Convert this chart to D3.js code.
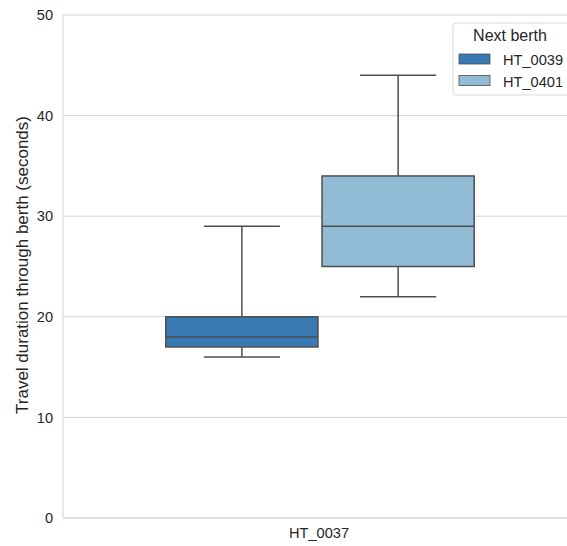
<!DOCTYPE html>
<html><head><meta charset="utf-8">
<script src="https://cdn.jsdelivr.net/npm/d3@7"></script>
<style>body{margin:0;background:#fff}svg{display:block;font-family:"Liberation Sans",Arial,sans-serif}</style>
</head><body>
<script>
const categories = ["HT_0037"];
const hues = ["HT_0039", "HT_0401"];
const colors = ["#3a7ab3", "#92bbd6"];
// [whiskerLow, Q1, median, Q3, whiskerHigh]
const statsHT0039 = [16, 17, 18, 20, 29];
const statsHT0401 = [22, 25, 29, 34, 44];
const yTicks = [0, 10, 20, 30, 40, 50];

const series = [
  {hue: hues[0], cat: categories[0], s: statsHT0039, color: colors[0]},
  {hue: hues[1], cat: categories[0], s: statsHT0401, color: colors[1]}
];

const W = 567, H = 546;
const m = {l: 63, t: 15, b: 28, r: -10};
const svg = d3.select("body").append("svg").attr("width", W).attr("height", H);

const y = d3.scaleLinear().domain([0, 50]).range([H - m.b, m.t]);
const x = d3.scaleBand().domain(categories).range([m.l, W - m.r]);
const bwAll = x.bandwidth();
const xh = d3.scaleBand().domain(hues).range([bwAll * 0.2, bwAll * 0.8]).paddingInner(0.026);

// grid
svg.append("g").selectAll("line").data(yTicks).join("line")
  .attr("x1", m.l).attr("x2", W).attr("y1", d => y(d)).attr("y2", d => y(d))
  .attr("stroke", "#d3d3d3").attr("stroke-width", 1);

// spines
svg.append("line").attr("x1", m.l).attr("x2", m.l).attr("y1", m.t).attr("y2", H - m.b).attr("stroke", "#d3d3d3");
svg.append("line").attr("x1", m.l).attr("x2", W).attr("y1", H - m.b).attr("y2", H - m.b).attr("stroke", "#d3d3d3");

// y ticks
svg.append("g").selectAll("text").data(yTicks).join("text")
  .attr("x", m.l - 10).attr("y", d => y(d)).attr("dy", "0.35em")
  .attr("text-anchor", "end").attr("font-size", 14.6).attr("fill", "#262626").text(d => d);

// x tick
svg.append("g").selectAll("text").data(categories).join("text")
  .attr("x", d => x(d) + x.bandwidth() / 2 - 1).attr("y", H - m.b + 20)
  .attr("text-anchor", "middle").attr("font-size", 14.6).attr("fill", "#262626").text(d => d);

// y label
svg.append("text").attr("transform", `translate(28,${265}) rotate(-90)`)
  .attr("text-anchor", "middle").attr("font-size", 17).attr("fill", "#262626")
  .text("Travel duration through berth (seconds)");

const lc = "#4e4e4e", lw = 1.5;
const g = svg.append("g");
series.forEach(d => {
  const x0 = x(d.cat) + xh(d.hue), bw = xh.bandwidth(), cx = x0 + bw / 2;
  const [lo, q1, med, q3, hi] = d.s;
  g.append("line").attr("x1", cx).attr("x2", cx).attr("y1", y(lo)).attr("y2", y(q1)).attr("stroke", lc).attr("stroke-width", lw);
  g.append("line").attr("x1", cx).attr("x2", cx).attr("y1", y(q3)).attr("y2", y(hi)).attr("stroke", lc).attr("stroke-width", lw);
  g.append("line").attr("x1", cx - bw / 4).attr("x2", cx + bw / 4).attr("y1", y(lo)).attr("y2", y(lo)).attr("stroke", lc).attr("stroke-width", lw);
  g.append("line").attr("x1", cx - bw / 4).attr("x2", cx + bw / 4).attr("y1", y(hi)).attr("y2", y(hi)).attr("stroke", lc).attr("stroke-width", lw);
  g.append("rect").attr("x", x0).attr("y", y(q3)).attr("width", bw).attr("height", y(q1) - y(q3))
    .attr("fill", d.color).attr("stroke", lc).attr("stroke-width", lw);
  g.append("line").attr("x1", x0).attr("x2", x0 + bw).attr("y1", y(med)).attr("y2", y(med)).attr("stroke", lc).attr("stroke-width", lw);
});

// legend
const lg = svg.append("g").attr("transform", "translate(453,23)");
lg.append("rect").attr("x", 0).attr("y", 0).attr("width", 125).attr("height", 72).attr("rx", 3)
  .attr("fill", "#fff").attr("fill-opacity", 0.8).attr("stroke", "#d9d9d9");
lg.append("text").attr("x", 57).attr("y", 18).attr("text-anchor", "middle").attr("font-size", 16).attr("fill", "#262626").text("Next berth");
hues.forEach((h, i) => {
  lg.append("rect").attr("x", 6).attr("y", 31 + i * 21.5).attr("width", 31).attr("height", 10)
    .attr("fill", colors[i]).attr("stroke", lc).attr("stroke-width", 0.8);
  lg.append("text").attr("x", 50).attr("y", 42 + i * 21.5).attr("font-size", 14.6).attr("fill", "#262626").text(h);
});
</script>
</body></html>
